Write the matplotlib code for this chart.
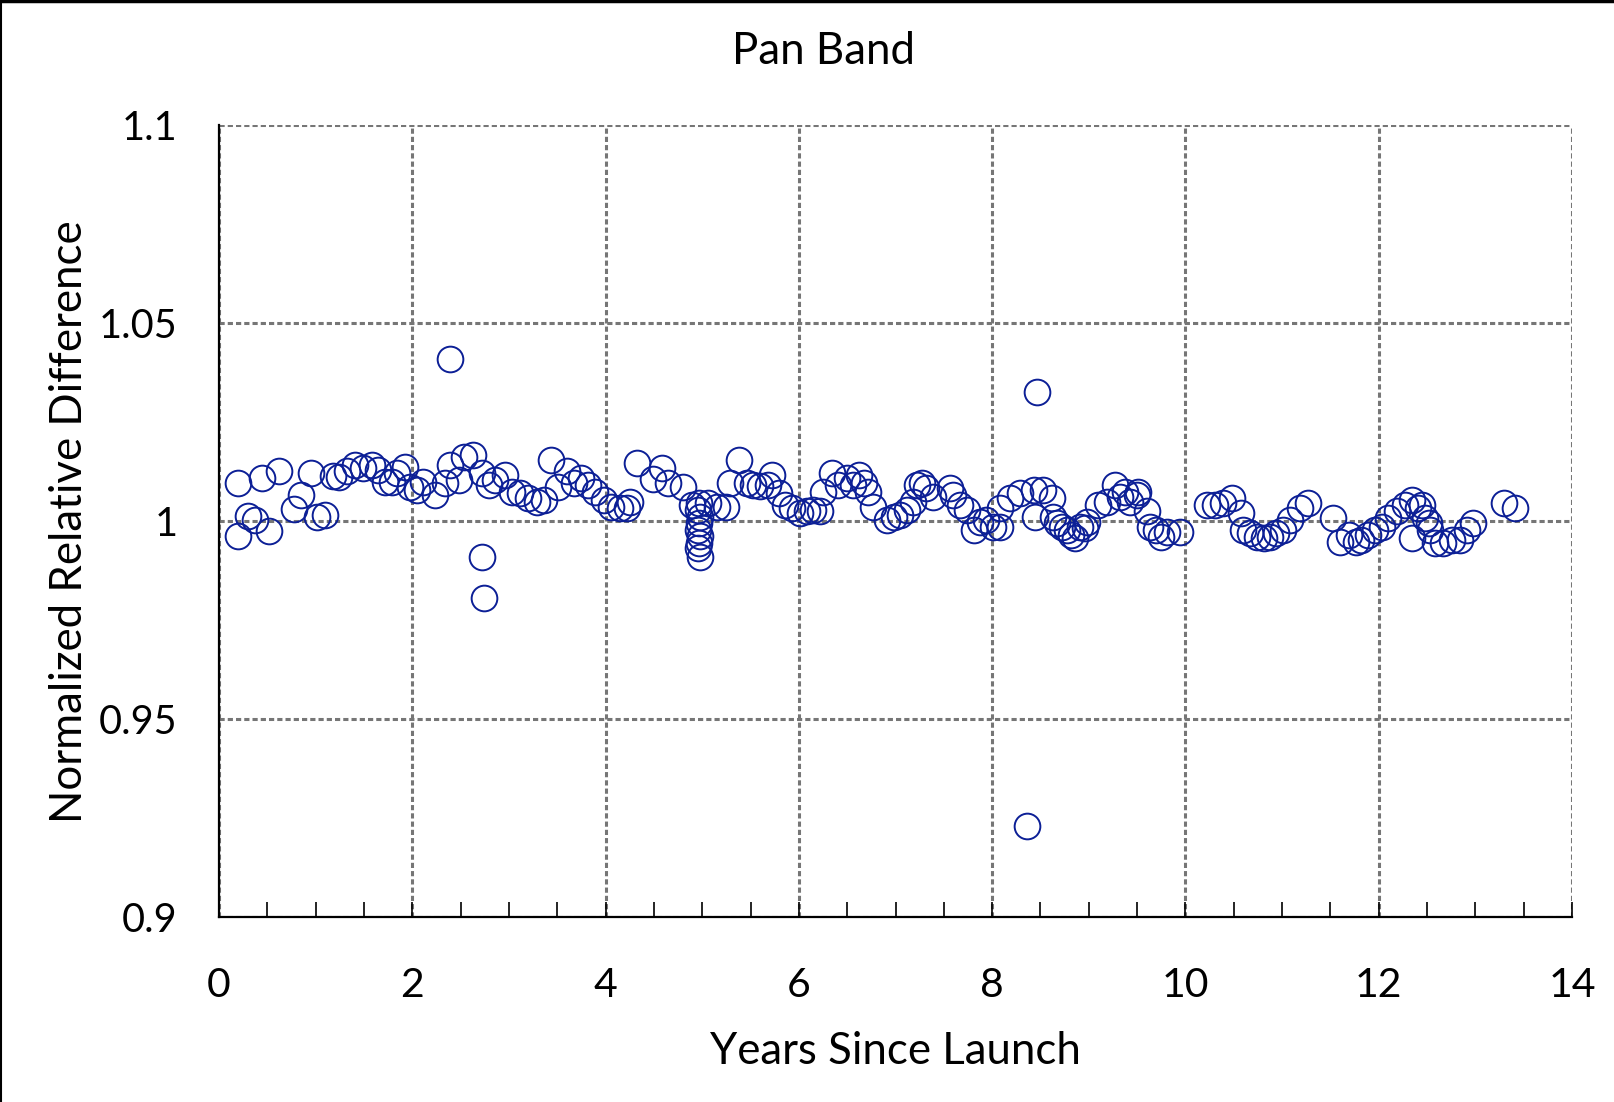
import matplotlib
matplotlib.use("Agg")
import matplotlib.pyplot as plt
from matplotlib.lines import Line2D
from matplotlib.ticker import MultipleLocator

plt.rcParams['font.family'] = ['Lato', 'DejaVu Sans']

# years since launch / normalized relative difference
years = [0.20, 0.20, 0.30, 0.37, 0.45, 0.52, 0.62, 0.78, 0.85, 0.95,
         1.01, 1.10, 1.18, 1.24, 1.32, 1.41, 1.49, 1.58, 1.65, 1.72,
         1.79, 1.84, 1.92, 1.98, 2.05, 2.11, 2.24, 2.34, 2.39, 2.39,
         2.48, 2.53, 2.63, 2.72, 2.72, 2.74, 2.79, 2.86, 2.96, 3.03,
         3.11, 3.20, 3.29, 3.36, 3.44, 3.51, 3.60, 3.67, 3.75, 3.82,
         3.89, 3.98, 4.06, 4.15, 4.22, 4.25, 4.33, 4.49, 4.58, 4.65,
         4.80, 4.89, 4.97, 4.96, 4.98, 4.97, 4.96, 4.98, 4.97, 4.96,
         4.98, 5.06, 5.15, 5.25, 5.29, 5.38, 5.46, 5.53, 5.60, 5.68,
         5.72, 5.79, 5.86, 5.93, 6.01, 6.08, 6.15, 6.22, 6.25, 6.34,
         6.41, 6.50, 6.56, 6.62, 6.67, 6.72, 6.77, 6.91, 6.98, 7.05,
         7.12, 7.18, 7.22, 7.27, 7.32, 7.39, 7.56, 7.60, 7.67, 7.74,
         7.81, 7.87, 7.94, 8.01, 8.08, 8.08, 8.18, 8.29, 8.36, 8.43,
         8.44, 8.46, 8.53, 8.62, 8.63, 8.67, 8.72, 8.77, 8.82, 8.86,
         8.91, 8.96, 8.98, 9.10, 9.19, 9.27, 9.32, 9.37, 9.43, 9.50,
         9.51, 9.60, 9.63, 9.70, 9.75, 9.81, 9.94, 10.22, 10.31, 10.39,
         10.48, 10.57, 10.60, 10.67, 10.74, 10.81, 10.87, 10.94, 11.01, 11.08,
         11.19, 11.27, 11.53, 11.60, 11.69, 11.76, 11.82, 11.89, 11.96, 12.03,
         12.10, 12.19, 12.27, 12.34, 12.34, 12.41, 12.45, 12.48, 12.52, 12.53,
         12.58, 12.67, 12.76, 12.84, 12.91, 12.98, 13.30, 13.41]
rel_diff = [1.0097, 0.9962, 1.0013, 1.0003, 1.0108, 0.9975, 1.0127, 1.0030, 1.0066, 1.0120,
            1.0011, 1.0015, 1.0114, 1.0112, 1.0125, 1.0141, 1.0133, 1.0141, 1.0129, 1.0099,
            1.0099, 1.0120, 1.0137, 1.0087, 1.0078, 1.0099, 1.0066, 1.0095, 1.0141, 1.0410,
            1.0104, 1.0162, 1.0167, 1.0120, 0.9908, 0.9805, 1.0091, 1.0104, 1.0116, 1.0074,
            1.0070, 1.0057, 1.0049, 1.0053, 1.0154, 1.0087, 1.0125, 1.0095, 1.0108, 1.0091,
            1.0074, 1.0053, 1.0036, 1.0032, 1.0032, 1.0049, 1.0146, 1.0105, 1.0133, 1.0095,
            1.0087, 1.0040, 1.0045, 1.0028, 1.0011, 0.9994, 0.9977, 0.9961, 0.9944, 0.9931,
            0.9910, 1.0045, 1.0036, 1.0036, 1.0095, 1.0154, 1.0095, 1.0091, 1.0088, 1.0091,
            1.0116, 1.0071, 1.0040, 1.0032, 1.0019, 1.0024, 1.0028, 1.0024, 1.0074, 1.0120,
            1.0091, 1.0108, 1.0091, 1.0116, 1.0095, 1.0074, 1.0036, 1.0003, 1.0011, 1.0015,
            1.0028, 1.0049, 1.0091, 1.0095, 1.0083, 1.0061, 1.0083, 1.0066, 1.0040, 1.0028,
            0.9977, 0.9998, 1.0003, 0.9986, 0.9986, 1.0032, 1.0057, 1.0070, 0.9229, 1.0078,
            1.0011, 1.0327, 1.0078, 1.0057, 1.0011, 0.9994, 0.9986, 0.9977, 0.9965, 0.9956,
            0.9986, 0.9982, 0.9998, 1.0040, 1.0049, 1.0091, 1.0061, 1.0074, 1.0049, 1.0066,
            1.0074, 1.0024, 0.9986, 0.9977, 0.9960, 0.9973, 0.9973, 1.0040, 1.0040, 1.0045,
            1.0057, 1.0019, 0.9977, 0.9969, 0.9960, 0.9956, 0.9960, 0.9969, 0.9977, 1.0003,
            1.0032, 1.0045, 1.0007, 0.9948, 0.9965, 0.9948, 0.9952, 0.9965, 0.9977, 0.9986,
            1.0007, 1.0024, 1.0040, 1.0053, 0.9956, 1.0032, 1.0040, 1.0007, 0.9994, 0.9977,
            0.9944, 0.9944, 0.9952, 0.9952, 0.9977, 0.9994, 1.0045, 1.0032]

x_ticks = [0, 2, 4, 6, 8, 10, 12, 14]
y_ticks = [0.9, 0.95, 1.0, 1.05, 1.1]
y_labels = ['0.9', '0.95', '1', '1.05', '1.1']

fig = plt.figure(figsize=(16.14, 11.02), dpi=100)
ax = fig.add_axes([219/1614, 1 - 917/1102, (1572 - 219)/1614, (917 - 125)/1102])

ax.plot(years, rel_diff, linestyle='none', marker='o', markersize=18.5,
        markerfacecolor='none', markeredgecolor='#0c1f96', markeredgewidth=1.4,
        clip_on=False, zorder=3)

ax.set_xlim(0, 14)
ax.set_ylim(0.9, 1.1)
ax.set_xticks(x_ticks)
ax.set_xticklabels([str(t) for t in x_ticks])
ax.set_yticks(y_ticks)
ax.set_yticklabels(y_labels)
ax.xaxis.set_minor_locator(MultipleLocator(0.5))

ax.grid(True, which='major', color='#767676', linewidth=2.2,
        linestyle=(0, (1.7, 1.0)))
ax.set_axisbelow(True)

for s in ['top', 'right']:
    ax.spines[s].set_visible(False)
for s in ['left', 'bottom']:
    ax.spines[s].set_linewidth(1.6)
    ax.spines[s].set_color('black')

ax.tick_params(axis='x', which='both', direction='in', length=11, width=1.2,
               labelsize=29.5, pad=36)
ax.tick_params(axis='y', which='both', length=0, labelsize=28.5, pad=30)

fig.text(0.51, 0.953, 'Pan Band', ha='center', va='center', fontsize=31.5)
fig.text(895/1614, 1 - 1052/1102, 'Years Since Launch', ha='center',
         va='center', fontsize=31.5)
fig.text(70/1614, 1 - 522/1102, 'Normalized Relative Difference', ha='center',
         va='center', rotation=90, fontsize=31.5)

# chart frame (top and left edges visible in the original)
fig.add_artist(Line2D([0, 1], [0.999, 0.999], transform=fig.transFigure,
                      color='black', linewidth=2.5))
fig.add_artist(Line2D([0.0005, 0.0005], [0, 1], transform=fig.transFigure,
                      color='black', linewidth=1.5))

fig.savefig('out.png', dpi=100)
